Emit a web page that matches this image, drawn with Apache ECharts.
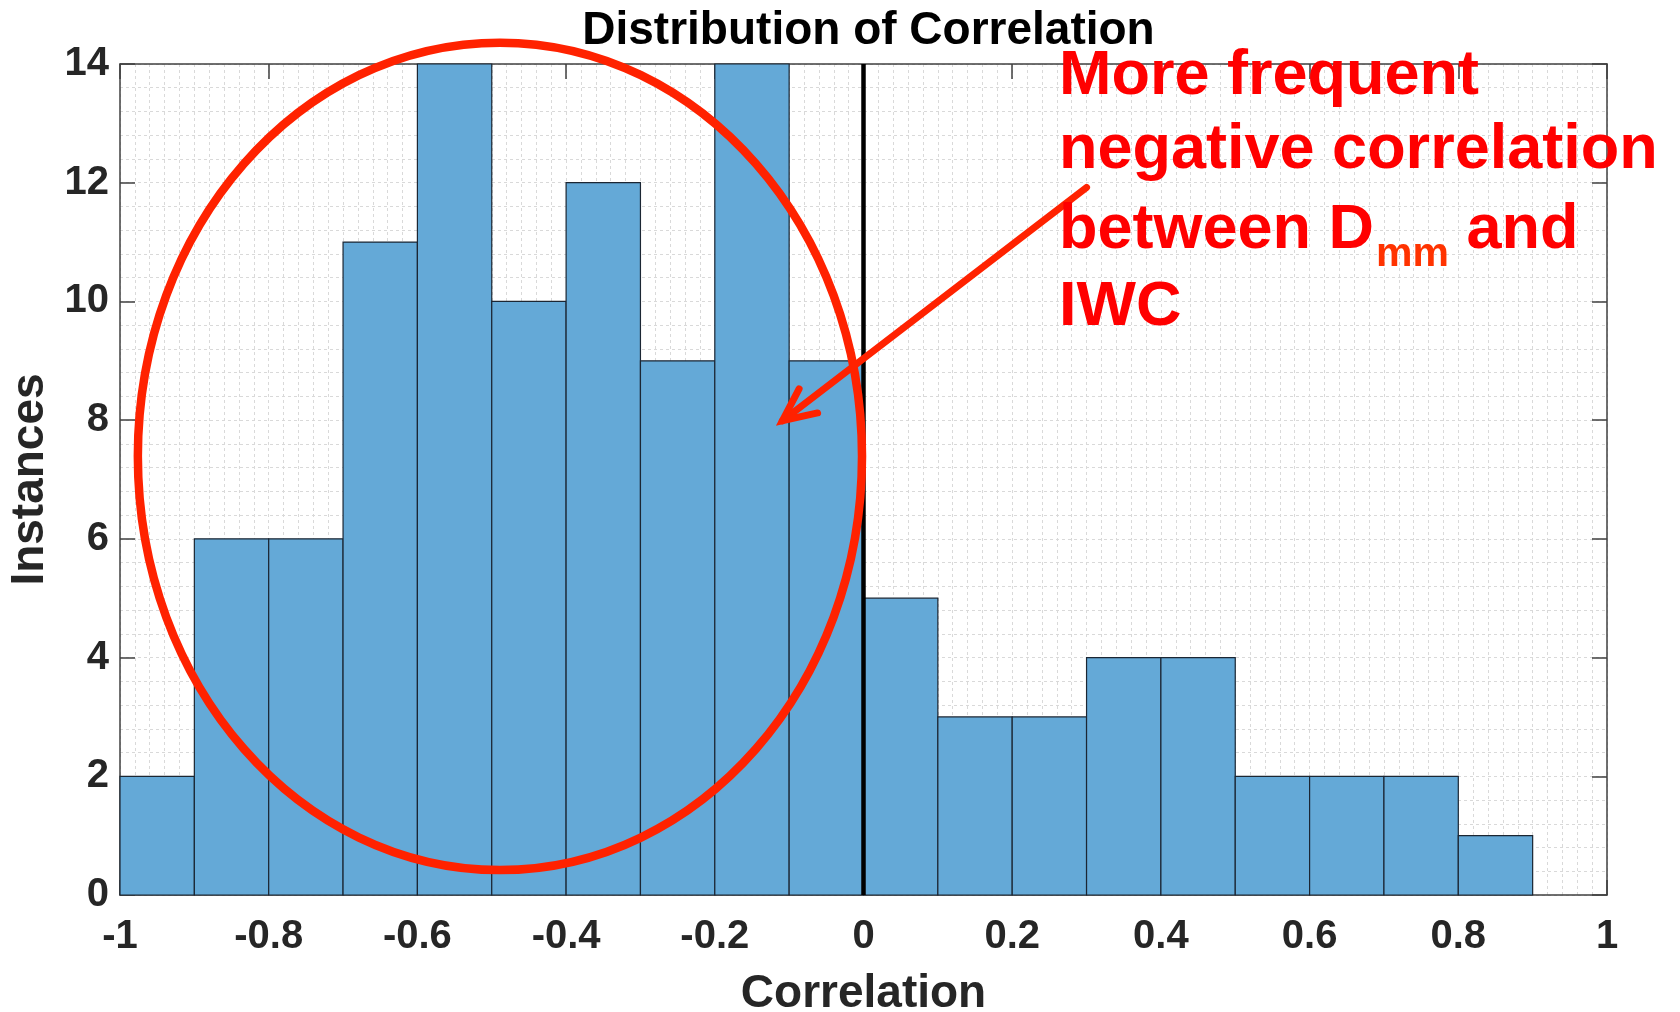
<!DOCTYPE html>
<html>
<head>
<meta charset="utf-8">
<title>Distribution of Correlation</title>
<script src="https://cdn.jsdelivr.net/npm/echarts@6/dist/echarts.min.js"></script>
<style>
  html, body { margin: 0; padding: 0; background: #ffffff; }
  #chart { width: 1680px; height: 1012px; }
</style>
</head>
<body>
<div id="chart"></div>
<script>
// Histogram bins: left edges, shared width, and counts per bin
const binLeftEdges = [-1.0, -0.9, -0.8, -0.7, -0.6, -0.5, -0.4, -0.3, -0.2, -0.1,
                       0.0,  0.1,  0.2,  0.3,  0.4,  0.5,  0.6,  0.7,  0.8,  0.9];
const binWidth = 0.1;
const binCounts = [2, 6, 6, 11, 14, 10, 12, 9, 14, 9,
                   5, 3, 3, 4, 4, 2, 2, 2, 1, 0];

// Axis ranges and ticks
const xRange = [-1, 1];
const xTickStep = 0.2;
const yRange = [0, 14];
const yTickStep = 2;

// Reference line at zero correlation
const zeroLine = [[0, 0], [0, 14]];

// Annotation text
const noteLines = ['More frequent', 'negative correlation', 'between D', 'IWC'];
const noteSub = 'mm';
const noteTail = ' and';

const FONT = '"Liberation Sans", Arial, Helvetica, sans-serif';
const AXIS_COLOR = '#404040';
const TEXT_COLOR = '#262626';
const GRID_COLOR = '#d9d9d9';

const GRID_LEFT = 120, GRID_RIGHT = 73, GRID_TOP = 64, GRID_BOTTOM = 117;
const CHART_W = 1680;

const histData = binLeftEdges.map((x, i) => [x, x + binWidth, binCounts[i]]);

const chart = echarts.init(document.getElementById('chart'), null, { renderer: 'canvas' });

const gridLine = { show: true, lineStyle: { color: GRID_COLOR, type: [3, 3], width: 1 } };

const option = {
  backgroundColor: '#ffffff',
  animation: false,
  title: {
    text: 'Distribution of Correlation',
    left: (GRID_LEFT + CHART_W - GRID_RIGHT) / 2,
    textAlign: 'center',
    top: 3,
    textStyle: { fontFamily: FONT, fontSize: 46, fontWeight: 'bold', color: '#000000' }
  },
  grid: { left: GRID_LEFT, right: GRID_RIGHT, top: GRID_TOP, bottom: GRID_BOTTOM,
          containLabel: false, outerBoundsMode: 'none',
          show: true, backgroundColor: '#ffffff', borderWidth: 0 },
  xAxis: [
    {
      type: 'value', min: xRange[0], max: xRange[1], interval: xTickStep,
      position: 'bottom',
      name: 'Correlation', nameLocation: 'middle', nameGap: 76,
      nameTextStyle: { fontFamily: FONT, fontSize: 46, fontWeight: 'bold', color: TEXT_COLOR },
      axisLine: { show: true, onZero: false, lineStyle: { color: AXIS_COLOR, width: 1.5 } },
      axisTick: { show: true, inside: true, length: 15, lineStyle: { color: AXIS_COLOR, width: 1.5 } },
      axisLabel: { margin: 22, fontFamily: FONT, fontSize: 40, fontWeight: 'bold', color: TEXT_COLOR },
      splitLine: gridLine,
      minorTick: { show: false, splitNumber: 10 },
      minorSplitLine: gridLine
    },
    {
      type: 'value', min: xRange[0], max: xRange[1], interval: xTickStep,
      position: 'top',
      axisLine: { show: true, onZero: false, lineStyle: { color: AXIS_COLOR, width: 1.5 } },
      axisTick: { show: true, inside: true, length: 15, lineStyle: { color: AXIS_COLOR, width: 1.5 } },
      axisLabel: { show: false },
      splitLine: { show: false }
    }
  ],
  yAxis: [
    {
      type: 'value', min: yRange[0], max: yRange[1], interval: yTickStep,
      position: 'left',
      name: 'Instances', nameLocation: 'middle', nameGap: 66,
      nameTextStyle: { fontFamily: FONT, fontSize: 46, fontWeight: 'bold', color: TEXT_COLOR },
      axisLine: { show: true, onZero: false, lineStyle: { color: AXIS_COLOR, width: 1.5 } },
      axisTick: { show: true, inside: true, length: 15, lineStyle: { color: AXIS_COLOR, width: 1.5 } },
      axisLabel: { margin: 11, fontFamily: FONT, fontSize: 40, fontWeight: 'bold', color: TEXT_COLOR },
      splitLine: gridLine,
      minorTick: { show: false, splitNumber: 5 },
      minorSplitLine: gridLine
    },
    {
      type: 'value', min: yRange[0], max: yRange[1], interval: yTickStep,
      position: 'right',
      axisLine: { show: true, onZero: false, lineStyle: { color: AXIS_COLOR, width: 1.5 } },
      axisTick: { show: true, inside: true, length: 15, lineStyle: { color: AXIS_COLOR, width: 1.5 } },
      axisLabel: { show: false },
      splitLine: { show: false }
    }
  ],
  series: [
    {
      type: 'custom',
      name: 'Instances',
      xAxisIndex: 0, yAxisIndex: 0,
      data: histData,
      encode: { x: [0, 1], y: 2 },
      z: 2,
      renderItem: function (params, api) {
        const count = api.value(2);
        if (!count) return null;
        const topLeft = api.coord([api.value(0), count]);
        const bottomRight = api.coord([api.value(1), 0]);
        return {
          type: 'rect',
          shape: {
            x: topLeft[0], y: topLeft[1],
            width: bottomRight[0] - topLeft[0],
            height: bottomRight[1] - topLeft[1]
          },
          style: { fill: '#64a9d7', stroke: '#1b2633', lineWidth: 1.2 }
        };
      }
    },
    {
      type: 'line',
      xAxisIndex: 0, yAxisIndex: 0,
      data: zeroLine,
      symbol: 'none',
      z: 3,
      lineStyle: { color: '#000000', width: 4.5 }
    }
  ]
};

chart.setOption(option);

// Annotation: ellipse around the negative bins, arrow and note
const toPx = (pt) => chart.convertToPixel({ xAxisIndex: 0, yAxisIndex: 0 }, pt);

const ellipseCenter = toPx([-0.489, 7.39]);
const ellipseEdge = toPx([-0.489 + 0.487, 7.39 + 6.97]);
const ellipseRx = Math.abs(ellipseEdge[0] - ellipseCenter[0]);
const ellipseRy = Math.abs(ellipseCenter[1] - ellipseEdge[1]);

const arrowTail = toPx([0.3, 11.92]);
const arrowTip = toPx([-0.109, 7.99]);
const dx = arrowTail[0] - arrowTip[0];
const dy = arrowTail[1] - arrowTip[1];
const ang = Math.atan2(dy, dx);
const headLen = 36;
const headSpread = 25 * Math.PI / 180;
const arm1 = [arrowTip[0] + headLen * Math.cos(ang - headSpread), arrowTip[1] + headLen * Math.sin(ang - headSpread)];
const arm2 = [arrowTip[0] + headLen * Math.cos(ang + headSpread), arrowTip[1] + headLen * Math.sin(ang + headSpread)];

const RED = '#ff2200';
const NOTE_RED = '#ff0000';
const noteFont = 'bold 63px ' + FONT;
const subFont = 'bold 41px ' + FONT;

// measure the first part of the third note line to place the subscript
const measureCtx = document.createElement('canvas').getContext('2d');
measureCtx.font = noteFont;
const lead3Width = measureCtx.measureText(noteLines[2]).width;
measureCtx.font = subFont;
const subWidth = measureCtx.measureText(noteSub).width;

const noteX = 1059;
// top of each text box
const noteTops = [45, 119, 199, 276];
const subTop = 234;

function noteText(text, x, top, font, color) {
  return {
    type: 'text', z: 100, silent: true,
    x: x, y: top,
    style: { text: text, font: font, fill: color, align: 'left', verticalAlign: 'top' }
  };
}

chart.setOption({
  graphic: [
    {
      type: 'ellipse', z: 90, silent: true,
      shape: { cx: ellipseCenter[0], cy: ellipseCenter[1], rx: ellipseRx, ry: ellipseRy },
      style: { fill: 'none', stroke: RED, lineWidth: 8.5 }
    },
    {
      type: 'polyline', z: 90, silent: true,
      shape: { points: [arrowTail, arrowTip] },
      style: { fill: 'none', stroke: RED, lineWidth: 7, lineCap: 'round' }
    },
    {
      type: 'polyline', z: 90, silent: true,
      shape: { points: [arm1, arrowTip, arm2] },
      style: { fill: 'none', stroke: RED, lineWidth: 7, lineCap: 'round', lineJoin: 'miter' }
    },
    noteText(noteLines[0], noteX, noteTops[0], noteFont, NOTE_RED),
    noteText(noteLines[1], noteX, noteTops[1], noteFont, NOTE_RED),
    noteText(noteLines[2], noteX, noteTops[2], noteFont, NOTE_RED),
    noteText(noteSub, noteX + lead3Width + 2, subTop, subFont, '#ff3300'),
    noteText(noteTail, noteX + lead3Width + 2 + subWidth, noteTops[2], noteFont, NOTE_RED),
    noteText(noteLines[3], noteX, noteTops[3], noteFont, NOTE_RED)
  ]
});
</script>
</body>
</html>
